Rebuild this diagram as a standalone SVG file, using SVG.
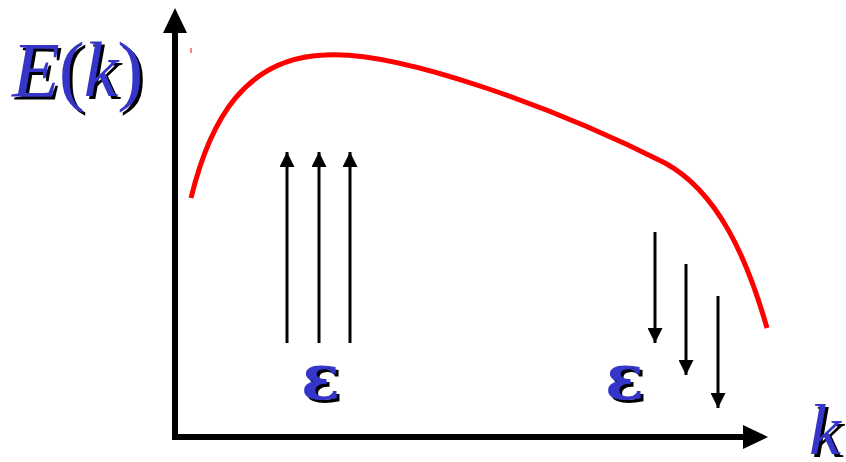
<svg xmlns="http://www.w3.org/2000/svg" width="846" height="462" viewBox="0 0 846 462">
<style>
.ax{stroke:#000;stroke-width:6;fill:none}
.ar{stroke:#000;stroke-width:3;fill:none}
.t{font-family:"Liberation Serif",serif;fill:#3636C8;filter:url(#sh)}
.i{font-style:italic}
.e{font-family:"DejaVu Serif",serif;font-weight:bold;fill:#3636C8;filter:url(#sh)}
</style>
<defs>
<marker id="h" viewBox="0 0 10 10" refX="10" refY="5" markerWidth="5" markerHeight="5" markerUnits="strokeWidth" orient="auto"><path d="M0,0 L10,5 L0,10 z" fill="#000"/></marker>
<filter id="sh" x="-10%" y="-10%" width="130%" height="130%">
<feOffset in="SourceAlpha" dx="2.5" dy="2.5" result="o"/>
<feFlood flood-color="#000"/>
<feComposite in2="o" operator="in" result="s"/>
<feMerge><feMergeNode in="s"/><feMergeNode in="SourceGraphic"/></feMerge>
</filter>
</defs>
<rect width="846" height="462" fill="#fff"/>
<g id="axes">
<line class="ax" x1="175" y1="440" x2="175" y2="32"/>
<polygon points="175,8 163,33 187,33" fill="#000"/>
<line class="ax" x1="172" y1="437" x2="744" y2="437"/>
<polygon points="768,437 743,425 743,449" fill="#000"/>
</g>
<g id="curve">
<path d="M191,198 C210,120 245,58 325,55 C400,50 560,110 665,163 C718,192 747,258 767,328" stroke="#f00" stroke-width="5" fill="none"/>
<line x1="191" y1="48" x2="191" y2="53" stroke="#f00" stroke-width="1"/>
</g>
<g id="connectors">
<line class="ar" x1="287" y1="343" x2="287" y2="152" marker-end="url(#h)"/>
<line class="ar" x1="319" y1="343" x2="319" y2="152" marker-end="url(#h)"/>
<line class="ar" x1="350" y1="343" x2="350" y2="152" marker-end="url(#h)"/>
<line class="ar" x1="655" y1="232" x2="655" y2="343" marker-end="url(#h)"/>
<line class="ar" x1="686" y1="264" x2="686" y2="375" marker-end="url(#h)"/>
<line class="ar" x1="718" y1="296" x2="718" y2="408" marker-end="url(#h)"/>
</g>
<g id="labelE">
<text class="t" x="12" y="96" font-size="78" letter-spacing="-1"><tspan class="i">E</tspan>(<tspan class="i">k</tspan>)</text>
</g>
<g id="labelk">
<text class="t i" x="809" y="454" font-size="72">k</text>
</g>
<g id="eps1">
<text class="e" x="301" y="399" font-size="64">ε</text>
</g>
<g id="eps2">
<text class="e" x="605" y="399" font-size="64">ε</text>
</g>
</svg>
